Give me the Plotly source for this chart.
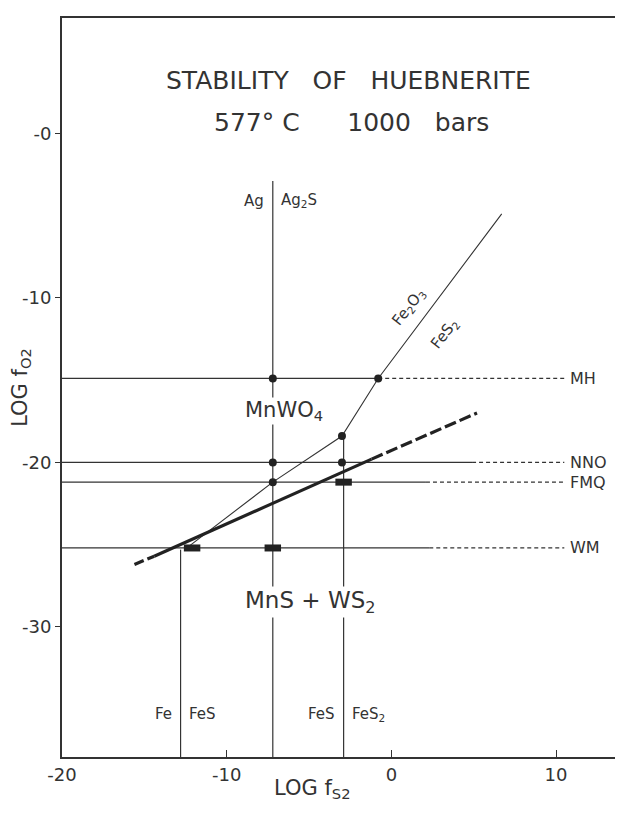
import plotly.graph_objects as go

# ---------------- data ----------------
buffer_names = ["MH", "NNO", "FMQ", "WM"]
buffer_logfo2 = [-14.9, -20.0, -21.2, -25.2]
buffer_dash_start = [-0.8, 4.9, 2.1, 2.3]
buffer_dash_end = 10.5

vert_x = [-7.2, -12.8, -2.9]
vert_ytop = [-2.9, -25.3, -18.4]

thin_x = [-12.3, -7.2, -3.0, -0.8, 6.7]
thin_y = [-25.1, -21.2, -18.4, -14.9, -4.9]

thick_x = [-15.6, -14.4, -1.2, 5.2]
thick_y = [-26.2, -25.7, -19.8, -17.0]

dot_x = [-7.2, -0.8, -3.0, -7.2, -3.0, -7.2]
dot_y = [-14.9, -14.9, -18.4, -20.0, -20.0, -21.2]

bar_x = [-2.9, -7.2, -12.1]
bar_y = [-21.2, -25.2, -25.2]

x_ticks = [-20, -10, 0, 10]
x_ticktext = ["-20", "-10", "0", "10"]
y_ticks = [0, -10, -20, -30]
y_ticktext = ["-0", "-10", "-20", "-30"]

XMIN, XMAX = -20.0, 13.7
YMIN, YMAX = -37.9, 7.0

INK = "#333333"
FONT = "DejaVu Sans"

fig = go.Figure()

for name, yv, xd in zip(buffer_names, buffer_logfo2, buffer_dash_start):
    fig.add_trace(go.Scatter(x=[XMIN, xd], y=[yv, yv], mode="lines",
                             line=dict(color=INK, width=1.2), hoverinfo="skip"))
    fig.add_trace(go.Scatter(x=[xd, buffer_dash_end], y=[yv, yv], mode="lines",
                             line=dict(color=INK, width=1.2, dash="4px,3px"),
                             hoverinfo="skip"))

for xv, yt in zip(vert_x, vert_ytop):
    fig.add_trace(go.Scatter(x=[xv, xv], y=[yt, YMIN], mode="lines",
                             line=dict(color=INK, width=1.2), hoverinfo="skip"))

fig.add_trace(go.Scatter(x=thin_x, y=thin_y, mode="lines",
                         line=dict(color=INK, width=1.1), hoverinfo="skip"))

fig.add_trace(go.Scatter(x=thick_x[0:2], y=thick_y[0:2], mode="lines",
                         line=dict(color="#222222", width=3.2, dash="10px,4px"),
                         hoverinfo="skip"))
fig.add_trace(go.Scatter(x=thick_x[1:3], y=thick_y[1:3], mode="lines",
                         line=dict(color="#222222", width=3.2), hoverinfo="skip"))
fig.add_trace(go.Scatter(x=thick_x[2:4], y=thick_y[2:4], mode="lines",
                         line=dict(color="#222222", width=3.2, dash="12px,4px"),
                         hoverinfo="skip"))

BAR_HALF = 0.5
bx, by = [], []
for xv, yv in zip(bar_x, bar_y):
    bx += [xv - BAR_HALF, xv + BAR_HALF, None]
    by += [yv, yv, None]
fig.add_trace(go.Scatter(x=bx, y=by, mode="lines",
                         line=dict(color="#222222", width=7), hoverinfo="skip"))

fig.add_trace(go.Scatter(x=dot_x, y=dot_y, mode="markers",
                         marker=dict(color="#222222", size=8), hoverinfo="skip"))

# ---------------- annotations ----------------
ann = []
def txt(x, y, s, size, **kw):
    d = dict(x=x, y=y, xref="x", yref="y", text=s, showarrow=False,
             font=dict(family=FONT, size=size, color=INK))
    d.update(kw)
    ann.append(d)

txt(-2.6, 3.2, "STABILITY   OF   HUEBNERITE", 25)
txt(-2.4, 0.65, "577° C      1000   bars", 25)
txt(-7.6, -4.1, "Ag", 15, xanchor="right")
txt(-6.8, -4.1, "Ag<sub>2</sub>S", 15, xanchor="left")
txt(1.05, -10.6, "Fe<sub>2</sub>O<sub>3</sub>", 15, textangle=-52)
txt(3.2, -12.2, "FeS<sub>2</sub>", 15, textangle=-52)
txt(-6.55, -16.9, "MnWO<sub>4</sub>", 21, bgcolor="white", borderpad=0)
txt(-4.9, -28.5, "MnS + WS<sub>2</sub>", 23, bgcolor="white", borderpad=0)
txt(-13.2, -35.3, "Fe", 15, xanchor="right")
txt(-12.4, -35.3, "FeS", 15, xanchor="left")
txt(-3.3, -35.3, "FeS", 15, xanchor="right")
txt(-2.5, -35.3, "FeS<sub>2</sub>", 15, xanchor="left")
for name, yv in zip(buffer_names, buffer_logfo2):
    txt(10.7, yv, name, 16, xanchor="left")
# x-axis title (placed like the reference, left of centre)
txt(-4.8, 0, "LOG f<sub>S2</sub>", 21, yref="paper", yanchor="middle", yshift=-32)

fig.update_layout(
    annotations=ann,
    width=615, height=805,
    margin=dict(l=54, r=6, t=10, b=56),
    paper_bgcolor="white", plot_bgcolor="white",
    showlegend=False,
    font=dict(family=FONT, color=INK),
    xaxis=dict(range=[XMIN, XMAX], tickvals=x_ticks, ticktext=x_ticktext,
               ticks="inside", ticklen=7, tickcolor=INK, tickwidth=1,
               showgrid=False, zeroline=False, showline=True, linecolor=INK,
               linewidth=2, mirror=True, automargin=False,
               tickfont=dict(size=18, family=FONT, color=INK)),
    yaxis=dict(range=[YMIN, YMAX], tickvals=y_ticks, ticktext=y_ticktext,
               ticks="outside", ticklen=5, tickcolor=INK, tickwidth=1,
               showgrid=False, zeroline=False, showline=True, linecolor=INK,
               linewidth=2, mirror=True, automargin=False,
               tickfont=dict(size=18, family=FONT, color=INK),
               title=dict(text="LOG f<sub>O2</sub>", font=dict(size=21, family=FONT, color=INK),
                          standoff=0)),
)

fig.write_html("out.html")
